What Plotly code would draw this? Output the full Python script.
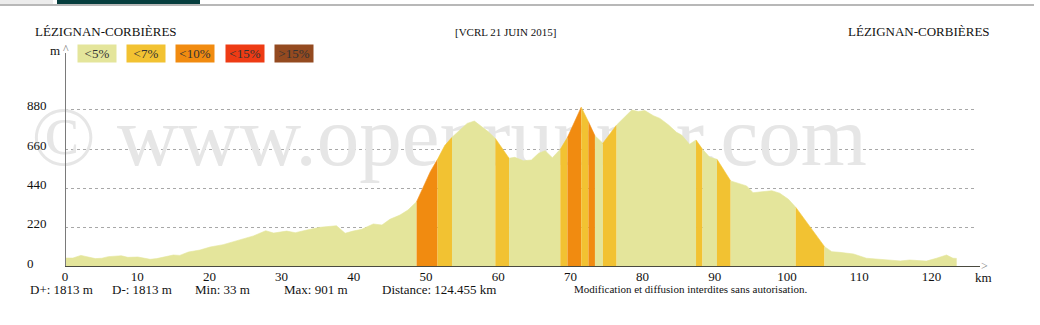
import plotly.graph_objects as go

# ---------------- data ----------------
KM = [0, 1.1, 2.2, 3.0, 4.2, 5.1, 6.0, 7.8, 8.7, 10.1, 11.8, 12.7, 14.1, 15.0, 15.9,
      17.1, 18.7, 20.1, 21.9, 24.2, 26.1, 27.8, 28.9, 30.7, 31.9, 33.5, 35.3, 37.6,
      38.8, 39.9, 41.1, 42.7, 43.9, 45.0, 46.4, 47.5, 48.7,
      49.6, 50.6, 51.6,
      52.6, 53.6,
      54.7, 55.7, 56.7, 58.6, 59.6,
      61.5,
      62.3, 63.5, 64.6, 65.6, 66.5, 67.5, 68.6,
      69.6, 71.5, 72.5, 73.4, 74.5, 76.4,
      78.5, 79.4, 80.3, 81.5, 82.4, 83.6, 84.7, 85.4, 86.5, 87.4,
      88.3, 89.3, 90.3, 92.2,
      93.3, 94.4, 95.3, 96.5, 97.9, 99.0, 100.2, 101.2,
      102.0, 105.2,
      106.2, 107.3, 109.2, 111.0, 113.3, 115.7, 117.0, 118.7, 119.3, 120.7, 122.1, 123.0, 123.5]
ELEV = [50, 50, 65, 58, 47, 49, 58, 63, 54, 56, 43, 47, 58, 67, 65,
        84, 95, 112, 125, 151, 174, 203, 190, 201, 192, 207, 222, 231,
        189, 201, 211, 241, 235, 267, 291, 319, 366,
        450, 534, 603,
        680, 726,
        767, 804, 817, 758, 720,
        609,
        614, 595, 599, 637, 651, 612, 659,
        726, 895, 813, 735, 693, 795,
        879, 870, 876, 847, 832, 795, 754, 739, 687, 711,
        659, 614, 603, 482,
        468, 454, 416, 422, 427, 413, 379, 335,
        291, 114,
        86, 82, 73, 49, 43, 34, 39, 33, 33, 49, 67, 49, 48]

SEG_BOUNDS = [0, 48.7, 51.6, 53.6, 59.6, 61.5, 68.6, 69.6, 71.5, 72.5, 73.4, 74.5,
              76.4, 87.4, 88.3, 90.3, 92.2, 101.2, 105.2, 123.5]
SEG_CLASS = [0, 2, 1, 0, 1, 0, 1, 2, 1, 2, 0, 1, 0, 1, 0, 1, 0, 1, 0]

CLASS_LABELS = ["&lt;5%", "&lt;7%", "&lt;10%", "&lt;15%", "&gt;15%"]
CLASS_COLORS = ["#e4e59b", "#f2c232", "#f18b10", "#ee3b14", "#944a20"]

Y_TICKS = [0, 220, 440, 660, 880]
X_TICKS = list(range(0, 130, 10))

STATS = ["D+: 1813 m", "D-: 1813 m", "Min: 33 m", "Max: 901 m", "Distance: 124.455 km"]
START_NAME = "LÉZIGNAN-CORBIÈRES"
END_NAME = "LÉZIGNAN-CORBIÈRES"
EVENT = "[VCRL 21 JUIN 2015]"
NOTICE = "Modification et diffusion interdites sans autorisation."
WATERMARK = "© www.openrunner.com"

# ---------------- layout geometry ----------------
W, H = 1040, 325
PL, PR, PT, PB = 65, 975, 50, 267
PX_PER_KM = 7.22
PX_PER_M = 0.1786
X_MAX = (PR - PL) / PX_PER_KM
Y_MAX = (PB - PT) / PX_PER_M
SERIF = "Liberation Serif, Times New Roman, serif"


def px(x):
    return (x - PL) / (PR - PL)


def py(y):
    return (PB - y) / (PB - PT)


fig = go.Figure()

# watermark on the base subplot (below the overlaying profile subplot)
fig.add_trace(go.Scatter(
    x=[(449 - PL) / PX_PER_KM], y=[(PB - 144) / PX_PER_M], mode="text",
    text=[WATERMARK], textposition="middle center",
    textfont=dict(family=SERIF, size=85, color="#e6e6e6"),
    cliponaxis=False, hoverinfo="skip", showlegend=False, xaxis="x", yaxis="y"))

# profile segments coloured by gradient class
for i, cls in enumerate(SEG_CLASS):
    a, b = SEG_BOUNDS[i], SEG_BOUNDS[i + 1]
    xs = [k for k in KM if a - 1e-9 <= k <= b + 1e-9]
    ys = [e for k, e in zip(KM, ELEV) if a - 1e-9 <= k <= b + 1e-9]
    fig.add_trace(go.Scatter(
        x=xs, y=ys, mode="lines", fill="tozeroy",
        line=dict(width=0.6, color=CLASS_COLORS[cls]),
        fillcolor=CLASS_COLORS[cls], hoverinfo="skip", showlegend=False,
        xaxis="x2", yaxis="y2"))

shapes = []
# top page bars
shapes.append(dict(type="rect", xref="paper", yref="paper", x0=px(0), x1=px(53),
                   y0=py(4), y1=py(0), fillcolor="#ececec", line=dict(width=0), layer="above"))
shapes.append(dict(type="rect", xref="paper", yref="paper", x0=px(57), x1=px(200),
                   y0=py(4), y1=py(0), fillcolor="#063e3e", line=dict(width=0), layer="above"))
shapes.append(dict(type="line", xref="paper", yref="paper", x0=px(0), x1=px(1034),
                   y0=py(5), y1=py(5), line=dict(color="#a0a0a0", width=1.5), layer="above"))
# axes
shapes.append(dict(type="line", xref="x", yref="paper", x0=0, x1=0, y0=0, y1=py(53),
                   line=dict(color="#7a7a7a", width=2), layer="above"))
shapes.append(dict(type="line", xref="paper", yref="y", x0=0, x1=px(980), y0=0, y1=0,
                   line=dict(color="#4a4a40", width=2), layer="above"))

ann = []
# y tick labels (left aligned)
for v in Y_TICKS:
    ann.append(dict(x=px(25), xref="paper", y=v, yref="y", yshift=4, text=str(v),
                    showarrow=False, xanchor="left", yanchor="middle",
                    font=dict(family=SERIF, size=13, color="#111")))
# axis arrows / units
ann.append(dict(x=px(66), xref="paper", y=py(49), yref="paper", text="^", showarrow=False,
                xanchor="center", yanchor="middle",
                font=dict(family=SERIF, size=12, color="#7a7a7a")))
ann.append(dict(x=px(54.5), xref="paper", y=py(51), yref="paper", text="m", showarrow=False,
                xanchor="center", yanchor="middle",
                font=dict(family=SERIF, size=13, color="#111")))
ann.append(dict(x=px(984), xref="paper", y=py(266), yref="paper", text="&gt;", showarrow=False,
                xanchor="center", yanchor="middle",
                font=dict(family=SERIF, size=12, color="#7a7a7a")))
ann.append(dict(x=px(983), xref="paper", y=py(277), yref="paper", text="km", showarrow=False,
                xanchor="center", yanchor="middle",
                font=dict(family=SERIF, size=13, color="#111")))
# legend boxes
for i, (lab, col) in enumerate(zip(CLASS_LABELS, CLASS_COLORS)):
    ann.append(dict(x=px(96.5 + i * 49.4), xref="paper", y=py(53.7), yref="paper",
                    text=lab, showarrow=False, bgcolor=col, width=38, height=17,
                    borderpad=0, xanchor="center", yanchor="middle",
                    font=dict(family=SERIF, size=13, color="#333")))
# header
ann.append(dict(x=px(33), xref="paper", y=py(32), yref="paper", text=START_NAME,
                showarrow=False, xanchor="left", yanchor="middle",
                font=dict(family=SERIF, size=13, color="#111")))
ann.append(dict(x=px(992), xref="paper", y=py(32), yref="paper", text=END_NAME,
                showarrow=False, xanchor="right", yanchor="middle",
                font=dict(family=SERIF, size=13, color="#111")))
ann.append(dict(x=px(505), xref="paper", y=py(32), yref="paper", text=EVENT,
                showarrow=False, xanchor="center", yanchor="middle",
                font=dict(family=SERIF, size=11, color="#111")))
# footer
for s, xp in zip(STATS, [28, 110, 193, 282, 380]):
    ann.append(dict(x=px(xp), xref="paper", y=py(289), yref="paper", text=s,
                    showarrow=False, xanchor="left", yanchor="middle",
                    font=dict(family=SERIF, size=13, color="#111")))
ann.append(dict(x=px(572), xref="paper", y=py(289), yref="paper", text=NOTICE,
                showarrow=False, xanchor="left", yanchor="middle",
                font=dict(family=SERIF, size=11, color="#111")))

fig.update_layout(
    width=W, height=H,
    margin=dict(l=PL, r=W - PR, t=PT, b=H - PB),
    paper_bgcolor="white", plot_bgcolor="white",
    showlegend=False,
    xaxis=dict(range=[0, X_MAX], tickvals=X_TICKS, ticktext=[str(t) for t in X_TICKS],
               showgrid=False, zeroline=False, showline=False, ticks="",
               tickfont=dict(family=SERIF, size=13, color="#111"), fixedrange=True),
    yaxis=dict(range=[0, Y_MAX], tickvals=Y_TICKS[1:], showticklabels=False,
               showgrid=True, gridcolor="#a8a8a8", griddash="dot", gridwidth=1,
               zeroline=False, showline=False, ticks="", fixedrange=True),
    xaxis2=dict(range=[0, X_MAX], overlaying="x", visible=False, fixedrange=True),
    yaxis2=dict(range=[0, Y_MAX], overlaying="y", visible=False, fixedrange=True),
    shapes=shapes, annotations=ann,
)

fig.write_html("out.html")
